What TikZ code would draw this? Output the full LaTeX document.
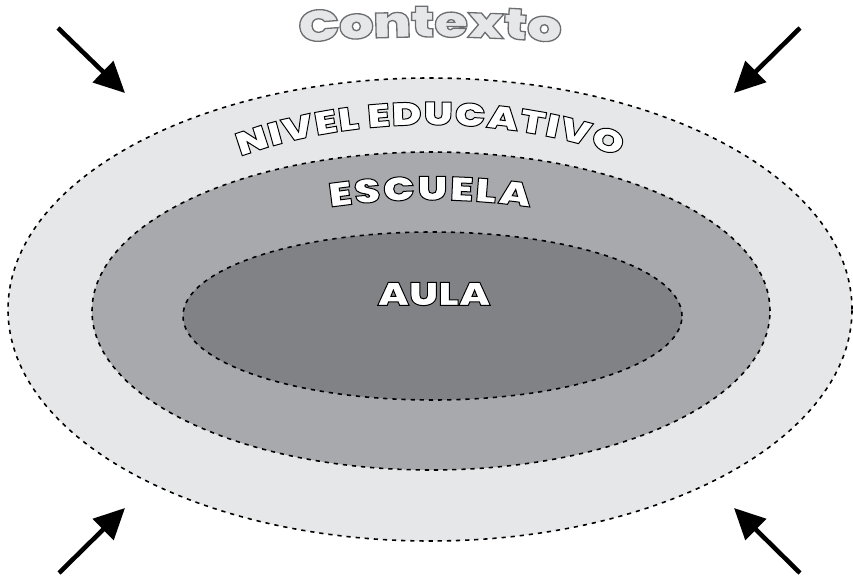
\documentclass[tikz,border=0pt]{standalone}
\usepackage{fontspec}
\usetikzlibrary{arrows.meta,decorations.text}
\IfFontExistsTF{Poppins Black}
  {\newfontfamily\heavy[FakeStretch=1.25,FakeBold=3]{Poppins Black}}
  {\newfontfamily\heavy[FakeStretch=1.25,FakeBold=4.5]{DejaVu Sans Bold}}
\definecolor{nivelgray}{HTML}{E6E7E8}
\definecolor{escuelagray}{HTML}{A7A9AC}
\definecolor{aulagray}{HTML}{808285}
\newcommand\outlined[1]{\special{pdf:bcolor [1] [0]}#1\special{pdf:ecolor}}
\newcommand\outlinedgray[1]{\special{pdf:bcolor [0.902 0.906 0.910] [0.427 0.431 0.443]}#1\special{pdf:ecolor}}

\begin{document}
\begin{tikzpicture}[x=0.02cm,y=0.02cm,
  ring/.style={draw=black,line width=0.9pt,dash pattern=on 2.4pt off 2.8pt},
  push/.style={line width=2.6pt,-{Triangle[length=17.5pt,width=16.5pt]}}]
\useasboundingbox (0,0) rectangle (853,576);

\draw[ring,fill=nivelgray] (430,266.5) ellipse [x radius=422, y radius=231.5];
\draw[ring,fill=escuelagray] (431,265) ellipse [x radius=339, y radius=159];
\draw[ring,fill=aulagray] (432.5,260) ellipse [x radius=249.5, y radius=84];

\path[decorate,decoration={text effects along path,text={Contexto},
  text effects/.cd,text along path,fit text to path,character command=\outlinedgray,
  every character/.style={font=\heavy\fontsize{25}{25}\selectfont}}]
  (299.3,533.3) arc [start angle=95, end angle=85, radius=1500];

\path[decorate,decoration={text effects along path,text={NIVEL EDUCATIVO},
  text effects/.cd,text along path,fit text to path,character command=\outlined,
  every character/.style={font=\heavy\fontsize{18.5}{18.5}\selectfont}}]
  (240.4,419.4) arc [start angle=124, end angle=56, x radius=339, y radius=185];

\path[decorate,decoration={text effects along path,text={ESCUELA},
  text effects/.cd,text along path,fit text to path,character command=\outlined,
  every character/.style={font=\heavy\fontsize{19}{19}\selectfont}}]
  (330.2,368.8) arc [start angle=98.2, end angle=81.8, radius=700];

\node[font=\heavy\fontsize{18.5}{18.5}\selectfont] (aula) at (434,282) {\outlined{AULA}};

\coordinate (tl0) at (58,548);  \coordinate (tl1) at (125,483);
\coordinate (tr0) at (800,548); \coordinate (tr1) at (734,483);
\coordinate (bl0) at (59,3);    \coordinate (bl1) at (125,68);
\coordinate (br0) at (800,3);   \coordinate (br1) at (734,68);
\draw[push] (tl0) -- (tl1);
\draw[push] (tr0) -- (tr1);
\draw[push] (bl0) -- (bl1);
\draw[push] (br0) -- (br1);
\end{tikzpicture}
\end{document}
